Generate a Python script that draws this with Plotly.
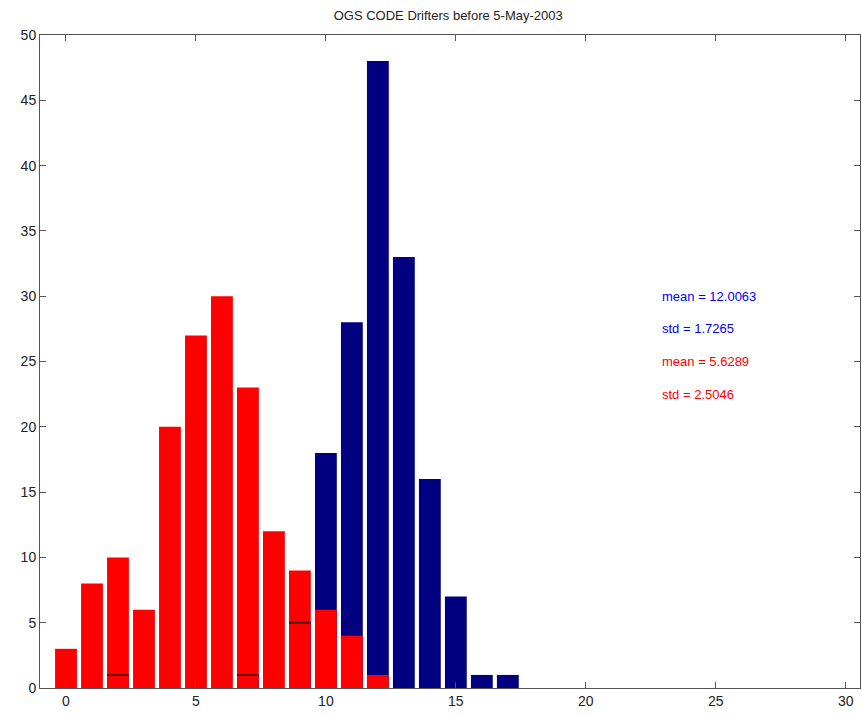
import plotly.graph_objects as go

# Data
red_x = [0, 1, 2, 3, 4, 5, 6, 7, 8, 9, 10, 11, 12]
red_y = [3, 8, 10, 6, 20, 27, 30, 23, 12, 9, 6, 4, 1]
blue_x = [2, 7, 9, 10, 11, 12, 13, 14, 15, 16, 17]
blue_y = [1, 1, 5, 18, 28, 48, 33, 16, 7, 1, 1]
title_text = "OGS CODE Drifters before 5-May-2003"
stat_labels = ["mean = 12.0063", "std = 1.7265", "mean = 5.6289", "std = 2.5046"]
stat_colors = ["#0000FF", "#0000FF", "#FF0000", "#FF0000"]
stat_y = [30, 27.5, 25, 22.5]
stat_x = 22.85

BAR_W = 0.84
FONT = "Liberation Sans, Arial, sans-serif"

fig = go.Figure()
fig.add_trace(go.Bar(x=blue_x, y=blue_y, width=BAR_W, marker=dict(color="#000080", line=dict(width=0)),
                     showlegend=False))
fig.add_trace(go.Bar(x=red_x, y=red_y, width=BAR_W, marker=dict(color="#FF0000", line=dict(width=0)),
                     showlegend=False))

# edges of blue bars hidden behind red bars
red_map = dict(zip(red_x, red_y))
lx, ly = [], []
for x, y in zip(blue_x, blue_y):
    if red_map.get(x, 0) > y:
        lx += [x - BAR_W / 2, x + BAR_W / 2, None]
        ly += [y, y, None]
fig.add_trace(go.Scatter(x=lx, y=ly, mode="lines", line=dict(color="#400000", width=1.5),
                         showlegend=False, hoverinfo="skip"))

for t, c, y in zip(stat_labels, stat_colors, stat_y):
    fig.add_annotation(x=stat_x, y=y, text=t, showarrow=False, xanchor="left", yanchor="middle",
                       font=dict(family=FONT, size=13, color=c))

fig.update_layout(
    width=862, height=715,
    margin=dict(l=40, r=2, t=35, b=27),
    paper_bgcolor="white", plot_bgcolor="white",
    barmode="overlay",
    title=dict(text=title_text, x=0.52, xanchor="center", y=0.985, yanchor="top",
               font=dict(family=FONT, size=13, color="#222")),
    font=dict(family=FONT, size=14, color="#222"),
    xaxis=dict(range=[-1, 30.55], tickvals=[0, 5, 10, 15, 20, 25, 30], showgrid=False, zeroline=False,
               showline=True, linecolor="#555", linewidth=1, mirror="ticks", ticks="inside", ticklen=6,
               tickcolor="#555"),
    yaxis=dict(range=[0, 50], tickvals=list(range(0, 51, 5)), showgrid=False, zeroline=False,
               showline=True, linecolor="#555", linewidth=1, mirror="ticks", ticks="inside", ticklen=6,
               tickcolor="#555"),
)

fig.write_html("out.html")
